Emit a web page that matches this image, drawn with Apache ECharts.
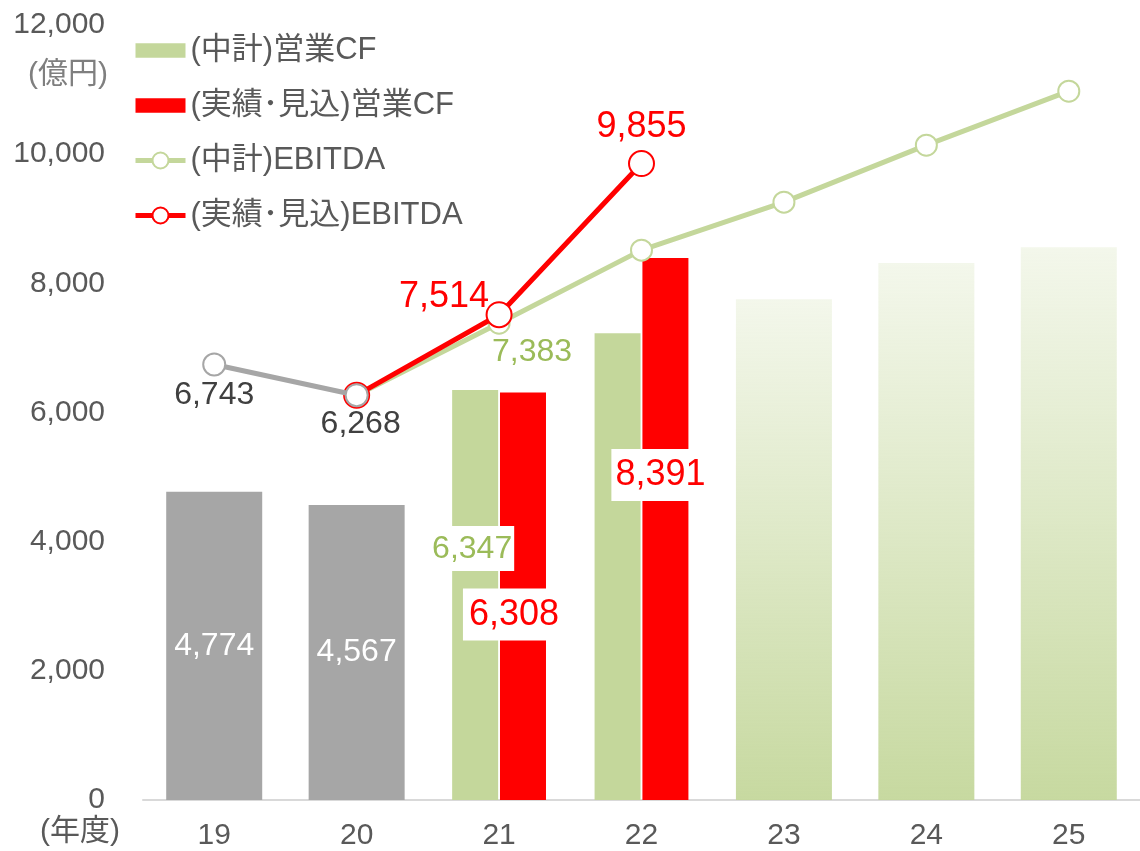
<!DOCTYPE html>
<html lang="ja">
<head>
<meta charset="UTF-8">
<title>営業CF・EBITDA</title>
<style>
    *{margin:0;padding:0;}
    html,body{width:100%;height:100%;background:#fff;}
    #chart{width:1140px;height:851px;}
</style>
</head>
<body>
<div id="chart"></div>
<script src="https://cdn.jsdelivr.net/npm/echarts@6/dist/echarts.min.js"></script>
<script>
// 年度
var years = ['19', '20', '21', '22', '23', '24', '25'];
// 営業CF: 実績単独(19,20) と 中計(23-25) は一本の棒
var singleCF = [4774, 4567, '-', '-', 7755, 8313, 8560];
var planCF = ['-', '-', 6347, 7229, '-', '-', '-'];
var actualCF = ['-', '-', 6308, 8391, '-', '-', '-'];
// EBITDA
var pastEbitda = [6743, 6268, '-', '-', '-', '-', '-'];
var planEbitda = ['-', 6268, 7383, 8514, 9257, 10139, 10975];
var actualEbitda = ['-', 6268, 7514, 9855, '-', '-', '-'];
var yTicks = [0, 2000, 4000, 6000, 8000, 10000, 12000];

var GREEN = '#c4d79b', RED = '#ff0000', GRAY = '#a6a6a6';
var FONT = 'Liberation Sans, Arial, Noto Sans CJK JP, sans-serif';

function fmt(v) { return Number(v).toLocaleString('en-US'); }
function fmtLabel(p) { return fmt(p.value); }

var grad = {
    type: 'linear', x: 0, y: 0, x2: 0, y2: 1,
    colorStops: [
        {offset: 0, color: 'rgba(196,215,155,0.2)'},
        {offset: 1, color: 'rgba(196,215,155,0.95)'}
    ]
};

var singleData = singleCF.map(function (v, i) {
    if (v === '-') return '-';
    var isPast = i < 2;
    return {
        value: v,
        itemStyle: {color: isPast ? GRAY : grad},
        label: {show: isPast, position: 'inside', color: '#fff', fontSize: 32}
    };
});

var planData = planCF.map(function (v, i) {
    if (v === '-') return '-';
    if (i === 2) return {value: v, label: {show: true, position: 'insideTop', distance: 136,
        color: '#9bbb59', backgroundColor: '#fff', padding: [7, 2, 6, 2], fontSize: 32, offset: [-3, 0]}};
    return v;
});

var actualData = actualCF.map(function (v, i) {
    if (v === '-') return '-';
    if (i === 2) return {value: v, label: {show: true, position: 'insideTop', distance: 196,
        color: RED, backgroundColor: '#fff', padding: [8, 6, 8, 6], fontSize: 36, offset: [-9, 0]}};
    return {value: v, label: {show: true, position: 'insideTop', distance: 191,
        color: RED, backgroundColor: '#fff', padding: [8, 4, 8, 4], fontSize: 36, offset: [-5, 0]}};
});

function pt(v, pos, color, size, off) {
    return {value: v, label: {show: true, position: pos, color: color, fontSize: size, offset: off || [0, 0]}};
}

var chart = echarts.init(document.getElementById('chart'));
chart.setOption({
    animation: false,
    textStyle: {fontFamily: FONT},
    grid: {left: 143, right: -4, top: 25, bottom: 51, containLabel: false},
    legend: {
        orient: 'vertical', left: 128, top: 30,
        itemWidth: 50, itemHeight: 20, itemGap: 24,
        textStyle: {color: '#595959', fontSize: 31, lineHeight: 30, fontFamily: FONT},
        data: [
            {name: '(中計)営業CF', icon: 'path://M0,0H49V14H0Z'},
            {name: '(実績･見込)営業CF', icon: 'path://M0,0H49V14H0Z'},
            {name: '(中計)EBITDA', lineStyle: {width: 5, color: GREEN}},
            {name: '(実績･見込)EBITDA', lineStyle: {width: 5, color: RED}}
        ]
    },
    xAxis: [{
        type: 'category', data: years,
        axisLine: {lineStyle: {color: '#d9d9d9', width: 2}},
        axisTick: {show: false},
        axisLabel: {color: '#595959', fontSize: 30, margin: 21}
    }, {
        type: 'category', data: years, show: false
    }],
    yAxis: {
        type: 'value', min: 0, max: 12000, interval: 2000,
        axisLine: {show: false}, axisTick: {show: false},
        splitLine: {show: false},
        axisLabel: {color: '#595959', fontSize: 30, margin: 38,
            formatter: function (v) { return yTicks.indexOf(v) >= 0 ? fmt(v) : ''; }}
    },
    graphic: [
        {type: 'text', left: 28, top: 60,
            style: {text: '(億円)', fill: '#7f7f7f', font: '30px ' + FONT}},
        {type: 'text', left: 40, top: 817,
            style: {text: '(年度)', fill: '#595959', font: '30px ' + FONT}}
    ],
    series: [
        {name: 'single', type: 'bar', xAxisIndex: 0, barWidth: 96, data: singleData,
            label: {formatter: fmtLabel}},
        {name: '(中計)営業CF', type: 'bar', xAxisIndex: 1, barWidth: 46, barGap: '4%',
            itemStyle: {color: GREEN}, data: planData, label: {formatter: fmtLabel}},
        {name: '(実績･見込)営業CF', type: 'bar', xAxisIndex: 1, barWidth: 46, barGap: '4%',
            itemStyle: {color: RED}, data: actualData, label: {formatter: fmtLabel}},
        {name: '(中計)EBITDA', type: 'line', data: planEbitda.map(function (v, i) {
                return i === 2 ? pt(v, 'bottom', '#9bbb59', 32, [33, -4]) : v;
            }),
            label: {formatter: fmtLabel},
            lineStyle: {color: GREEN, width: 5}, itemStyle: {color: '#fff', borderColor: GREEN, borderWidth: 2},
            symbol: 'circle', symbolSize: 21, showAllSymbol: true, z: 3},
        {name: '(実績･見込)EBITDA', type: 'line', data: actualEbitda.map(function (v, i) {
                if (i === 2) return pt(v, 'top', RED, 36, [-55, 19]);
                if (i === 3) return pt(v, 'top', RED, 36, [0, 0]);
                return v;
            }),
            label: {formatter: fmtLabel},
            lineStyle: {color: RED, width: 5}, itemStyle: {color: '#fff', borderColor: RED, borderWidth: 2},
            symbol: 'circle', symbolSize: 25, showAllSymbol: true, z: 4},
        {name: 'past', type: 'line', data: pastEbitda.map(function (v, i) {
                return i === 0 ? pt(v, 'bottom', '#404040', 32, [0, -2]) : pt(v, 'bottom', '#404040', 32, [4, -4]);
            }),
            label: {formatter: fmtLabel},
            lineStyle: {color: GRAY, width: 5}, itemStyle: {color: '#fff', borderColor: GRAY, borderWidth: 2},
            symbol: 'circle', symbolSize: 22, z: 5}
    ]
});
</script>
</body>
</html>
